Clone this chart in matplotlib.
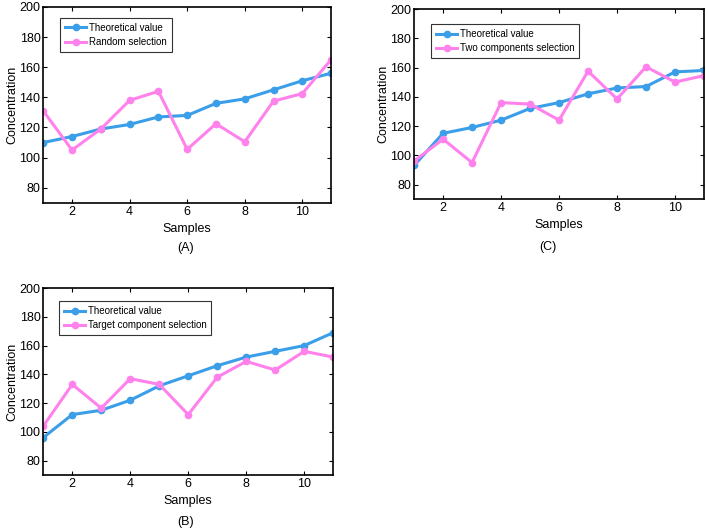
import matplotlib
matplotlib.use('Agg')
import matplotlib.pyplot as plt

# samples 1..11
samples = list(range(1, 12))

# panel (A)
theo_a = [110, 114, 119, 122, 127, 128, 136, 139, 145, 151, 156]
random_sel = [131, 105, 119, 138, 144, 105.5, 122.5, 110.5, 137.5, 142.5, 165]

# panel (C)
theo_c = [93, 115, 119, 124, 132, 136, 142, 146, 147, 157, 158]
two_sel = [96, 111, 95, 136, 135, 124, 157.5, 138.5, 160.5, 150, 154.5]

# panel (B)
theo_b = [96, 112, 115, 122, 132, 139, 146, 152, 156, 160, 169]
target_sel = [104, 133, 116.5, 137, 133, 112, 138, 149, 143, 156, 152]

blue = '#3a9ee8'
pink = '#ff82ec'

plt.rcParams['font.family'] = ['Liberation Sans', 'DejaVu Sans']

fig = plt.figure(figsize=(7.09, 5.31), dpi=100)

panels = [
    ([0.061, 0.618, 0.406, 0.369], theo_a, random_sel, 'Random selection', (0.059, 0.944), '(A)', (0.262, 0.533)),
    ([0.584, 0.625, 0.409, 0.358], theo_c, two_sel, 'Two components selection', (0.059, 0.92), '(C)', (0.773, 0.535)),
    ([0.061, 0.1055, 0.409, 0.352], theo_b, target_sel, 'Target component selection', (0.055, 0.93), '(B)', (0.262, 0.017)),
]

for rect, theo, sel, name, leg_pos, tag, tag_pos in panels:
    ax = fig.add_axes(rect)
    ax.plot(samples, theo, '-o', color=blue, lw=2.2, ms=4.5, label='Theoretical value')
    ax.plot(samples, sel, '-o', color=pink, lw=2.2, ms=4.5, label=name)
    ax.set_xlim(1, 11)
    ax.set_ylim(70, 200)
    ax.set_xticks([2, 4, 6, 8, 10])
    ax.set_yticks([80, 100, 120, 140, 160, 180, 200])
    ax.tick_params(direction='in', top=True, right=True, labelsize=9, length=3, pad=2)
    for s in ax.spines.values():
        s.set_linewidth(1.2)
    ax.set_xlabel('Samples', fontsize=9, labelpad=4)
    ax.set_ylabel('Concentration', fontsize=9, labelpad=1)
    leg = ax.legend(loc='upper left', bbox_to_anchor=leg_pos, fontsize=7,
                    handlelength=2.2, borderpad=0.5, labelspacing=0.45,
                    handletextpad=0.25, fancybox=False, framealpha=1, borderaxespad=0)
    leg.get_frame().set_edgecolor('#333333')
    leg.get_frame().set_linewidth(0.8)
    fig.text(tag_pos[0], tag_pos[1], tag, ha='center', va='center', fontsize=9)

fig.savefig('out.png', dpi=100)
